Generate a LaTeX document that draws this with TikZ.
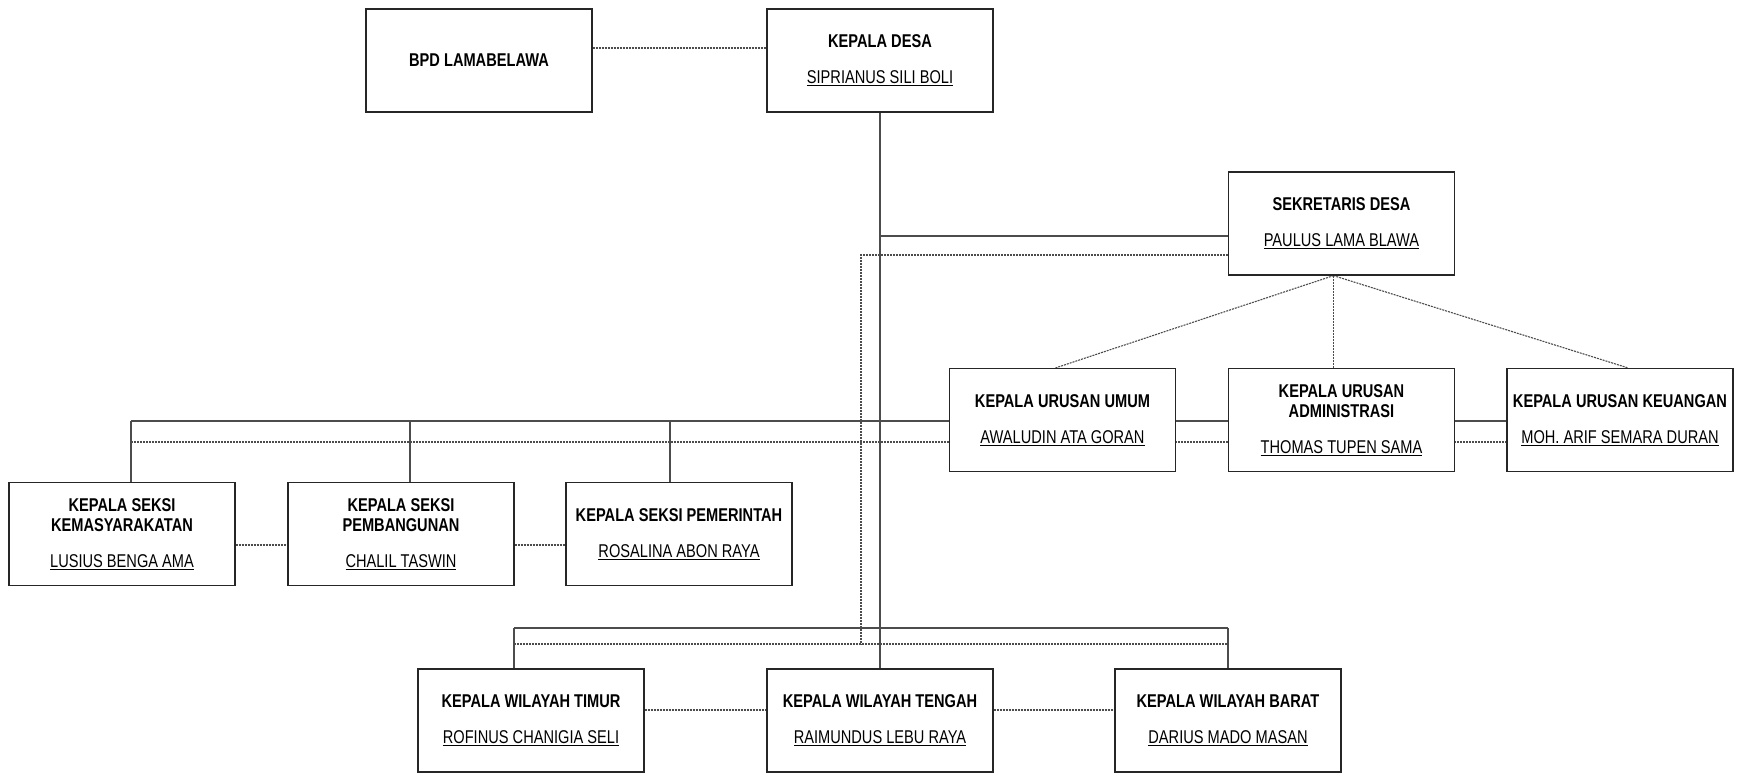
\documentclass[tikz,border=0pt]{standalone}
\usepackage{fontspec}
\setmainfont{Liberation Sans}[FakeStretch=0.79]
\usetikzlibrary{calc}
\pgfdeclarelayer{bg}
\pgfsetlayers{bg,main}
\tikzset{
  box/.style={draw=black!85, line width=1.2pt, fill=white, minimum width=226pt, minimum height=103pt,
    inner sep=0pt, align=center, font=\fontsize{18.5}{20}\selectfont},
  solidline/.style={draw=black!70, line width=1.3pt},
  dashline/.style={draw=black!70, line width=1.1pt, dash pattern=on 2pt off 1pt},
}
\newcommand{\ttl}[1]{\textbf{#1}}
\newcommand{\nm}[1]{\underline{#1}}
\begin{document}
\begin{tikzpicture}[x=1pt,y=-1pt]
\useasboundingbox (0,0) rectangle (1745,772);
% boxes
\node[box] (bpd) at (479,60.5) {\ttl{BPD LAMABELAWA}};
\node[box] (desa) at (880,60.5) {\ttl{KEPALA DESA}\\[16pt]\nm{SIPRIANUS SILI BOLI}};
\node[box] (sek) at (1341.5,223.5) {\ttl{SEKRETARIS DESA}\\[16pt]\nm{PAULUS LAMA BLAWA}};
\node[box] (umum) at (1062.5,420) {\ttl{KEPALA URUSAN UMUM}\\[16pt]\nm{AWALUDIN ATA GORAN}};
\node[box] (adm) at (1341.5,420) {\ttl{KEPALA URUSAN}\\\ttl{ADMINISTRASI}\\[16pt]\nm{THOMAS TUPEN SAMA}};
\node[box] (keu) at (1620,420) {\ttl{KEPALA URUSAN KEUANGAN}\\[16pt]\nm{MOH. ARIF SEMARA DURAN}};
\node[box] (kem) at (122,534) {\ttl{KEPALA SEKSI}\\\ttl{KEMASYARAKATAN}\\[16pt]\nm{LUSIUS BENGA AMA}};
\node[box] (pemb) at (401,534) {\ttl{KEPALA SEKSI}\\\ttl{PEMBANGUNAN}\\[16pt]\nm{CHALIL TASWIN}};
\node[box] (pem) at (679,534) {\ttl{KEPALA SEKSI PEMERINTAH}\\[16pt]\nm{ROSALINA ABON RAYA}};
\node[box] (tim) at (531,720.5) {\ttl{KEPALA WILAYAH TIMUR}\\[16pt]\nm{ROFINUS CHANIGIA SELI}};
\node[box] (ten) at (880,720.5) {\ttl{KEPALA WILAYAH TENGAH}\\[16pt]\nm{RAIMUNDUS LEBU RAYA}};
\node[box] (bar) at (1228,720.5) {\ttl{KEPALA WILAYAH BARAT}\\[16pt]\nm{DARIUS MADO MASAN}};
% coordinates
\coordinate (s1) at ([yshift=-12.5pt]sek.west);
\coordinate (s2) at ([yshift=-31.5pt]sek.west);
\coordinate (dv) at (861,645);
\coordinate (sa) at ([xshift=-8pt]sek.south);
\coordinate (tl) at (131,421);
\coordinate (tld) at (131,442);
\coordinate (pv) at (410,421);
\coordinate (rv) at (670,421);
\coordinate (wl) at (514,628);
\coordinate (wld) at (514,644);
\coordinate (wr) at (1228,628);
\coordinate (wrd) at (1228,644);
\begin{pgfonlayer}{bg}
  \draw[dashline] ([yshift=12.5pt]bpd.east) -- ([yshift=12.5pt]desa.west);
  \draw[solidline] (desa.south) -- (ten.north);
  \draw[solidline] (s1) -- (s1 -| desa.south);
  \draw[dashline] (s2) -| (dv);
  \draw[dashline] (sa) -- ([xshift=-7pt]umum.north);
  \draw[dashline] (sa) -- (sa |- adm.north);
  \draw[dashline] (sa) -- ([xshift=8pt]keu.north);
  % top bus
  \draw[solidline] (tl) -- (tl -| keu.west);
  \draw[dashline] (tld) -- (tld -| keu.west);
  \draw[solidline] (tl) -- (tl |- kem.north);
  \draw[solidline] (pv) -- (pv |- pemb.north);
  \draw[solidline] (rv) -- (rv |- pem.north);
  \draw[dashline] ([yshift=-11pt]kem.east) -- ([yshift=-11pt]pemb.west);
  \draw[dashline] ([yshift=-11pt]pemb.east) -- ([yshift=-11pt]pem.west);
  % wilayah bus
  \draw[solidline] (wl) -- (wr);
  \draw[dashline] (wld) -- (wrd);
  \draw[solidline] (wl) -- (wl |- tim.north);
  \draw[solidline] (wr) -- (bar.north);
  \draw[dashline] ([yshift=10.5pt]tim.east) -- ([yshift=10.5pt]ten.west);
  \draw[dashline] ([yshift=10.5pt]ten.east) -- ([yshift=10.5pt]bar.west);
\end{pgfonlayer}
\end{tikzpicture}
\end{document}
